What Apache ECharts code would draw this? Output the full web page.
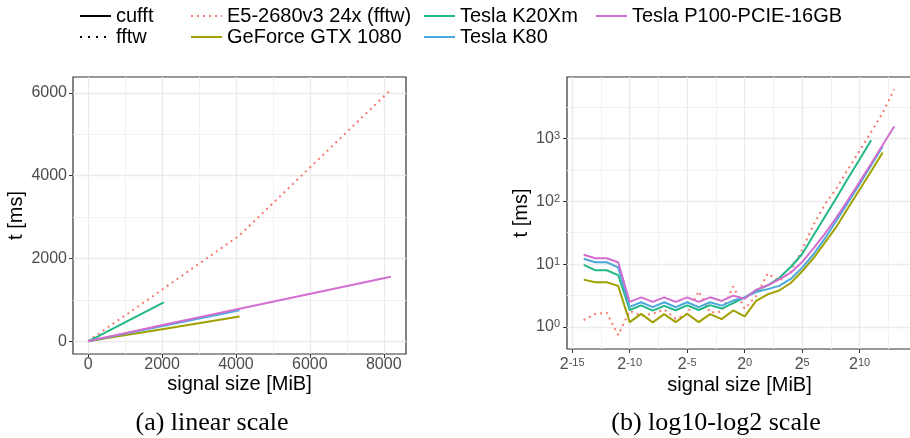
<!DOCTYPE html>
<html>
<head>
<meta charset="utf-8">
<script src="https://cdn.jsdelivr.net/npm/echarts@6.0.0/dist/echarts.min.js"></script>
<style>
html, body { margin: 0; padding: 0; background: #fff; }
#chart { width: 910px; height: 438px; }
</style>
</head>
<body>
<div id="chart"></div>
<script>
// signal sizes (MiB), powers of two from 2^-14 to 2^13
const sizeMiB = [1/16384, 1/8192, 1/4096, 1/2048, 1/1024, 1/512, 1/256, 1/128, 1/64, 1/32, 1/16, 1/8, 1/4, 1/2,
    1, 2, 4, 8, 16, 32, 64, 128, 256, 512, 1024, 2048, 4096, 8192];

// runtimes (ms), one per size
const tE5 = [1.28, 1.6, 1.68, 0.74, 1.8, 1.5, 1.62, 1.9, 1.35, 1.6, 3.7, 1.7, 1.75, 4.4,
    1.95, 3.1, 7.1, 5.4, 7.5, 17, 43, 91, 163, 328, 640, 1280, 2560, 6080];
const tGtx1080 = [5.66, 5.13, 5.13, 4.5, 1.19, 1.61, 1.18, 1.6, 1.19, 1.62, 1.19, 1.6, 1.33, 1.83,
    1.47, 2.6, 3.3, 3.8, 5.0, 7.7, 12.6, 22.3, 40, 79, 154, 302, 600];
const tK20Xm = [9.7, 8.0, 8.0, 6.7, 1.86, 2.2, 1.82, 2.16, 1.84, 2.2, 1.86, 2.22, 1.96, 2.4,
    2.95, 3.8, 4.6, 6.0, 9.0, 14.5, 29, 58, 115, 235, 470, 940];
const tK80 = [12.2, 10.7, 10.7, 8.9, 2.08, 2.47, 2.06, 2.47, 2.06, 2.47, 2.06, 2.47, 2.18, 2.63,
    2.95, 3.6, 4.0, 4.5, 5.8, 8.8, 14.5, 26, 50, 97, 190, 375, 750];
const tP100 = [14.1, 12.4, 12.4, 10.7, 2.5, 2.96, 2.5, 2.96, 2.5, 2.96, 2.5, 2.96, 2.59, 3.15,
    2.8, 3.9, 4.6, 5.7, 7.3, 10.8, 18, 31, 56, 106, 205, 400, 790, 1560];

// tick values
const linTicksX = [0, 2000, 4000, 6000, 8000];
const linMinorX = [1000, 3000, 5000, 7000];
const linTicksY = [0, 2000, 4000, 6000];
const linMinorY = [1000, 3000, 5000];
const log2TicksX = [-15, -10, -5, 0, 5, 10];
const log2MinorX = [-12.5, -7.5, -2.5, 2.5, 7.5, 12.5];
const log10TicksY = [0, 1, 2, 3];
const log10MinorY = [0.5, 1.5, 2.5, 3.5];

const devices = [
    { name: 'E5-2680v3 24x (fftw)', color: '#F47A70', t: tE5, fftw: true },
    { name: 'GeForce GTX 1080', color: '#A0A000', t: tGtx1080 },
    { name: 'Tesla K20Xm', color: '#22B884', t: tK20Xm },
    { name: 'Tesla K80', color: '#4AA8DC', t: tK80 },
    { name: 'Tesla P100-PCIE-16GB', color: '#D36ED0', t: tP100 }
];

const FONT = 'Liberation Sans, Arial, sans-serif';
const TICK_COLOR = '#4D4D4D';

function lineSeries(dev, logScale) {
    return {
        name: dev.name,
        type: 'line',
        xAxisIndex: logScale ? 2 : 0,
        yAxisIndex: logScale ? 2 : 0,
        data: dev.t.map((t, i) => logScale ? [Math.log2(sizeMiB[i]), Math.log10(t)] : [sizeMiB[i], t]),
        symbol: 'none',
        silent: true,
        lineStyle: { color: dev.color, width: 2, type: dev.fftw ? [2, 4] : 'solid' },
        itemStyle: { color: dev.color }
    };
}

function mainAxis(gridIndex, min, max, ticks, fmt, labelOpt, nameOpt) {
    return Object.assign({
        type: 'value',
        gridIndex: gridIndex,
        min: min,
        max: max,
        axisLine: { show: false, onZero: false },
        axisTick: { show: true, customValues: ticks, length: 4, lineStyle: { color: '#333', width: 1 } },
        axisLabel: Object.assign({ customValues: ticks, formatter: fmt, color: TICK_COLOR, fontSize: 16, fontFamily: FONT }, labelOpt),
        splitLine: { show: true, lineStyle: { color: '#EBEBEB', width: 1.4 } },
        nameLocation: 'middle',
        nameMoveOverlap: false,
        nameTextStyle: { fontSize: 20, color: '#000', fontFamily: FONT }
    }, nameOpt);
}

function minorAxis(gridIndex, min, max, ticks, pos) {
    return {
        type: 'value',
        gridIndex: gridIndex,
        min: min,
        max: max,
        position: pos,
        axisLine: { show: false, onZero: false },
        axisTick: { show: false, customValues: ticks },
        axisLabel: { show: false, customValues: ticks },
        splitLine: { show: true, lineStyle: { color: '#F2F2F2', width: 1 } }
    };
}

const supRich = {
    b: { fontSize: 16, color: TICK_COLOR, fontFamily: FONT, lineHeight: 16, verticalAlign: 'bottom' },
    s: { fontSize: 11, color: TICK_COLOR, fontFamily: FONT, lineHeight: 12, verticalAlign: 'top', padding: [0, 0, 11, 0] }
};

const series = [];
devices.forEach(d => series.push(lineSeries(d, false)));
devices.forEach(d => series.push(lineSeries(d, true)));
// linetype keys for the legend
series.push({ name: 'cufft', type: 'line', data: [], symbol: 'none', lineStyle: { color: '#000', width: 2 }, itemStyle: { color: '#000' } });
series.push({ name: 'fftw', type: 'line', data: [], symbol: 'none', lineStyle: { color: '#000', width: 2, type: [2, 6] }, itemStyle: { color: '#000' } });

const legendBase = {
    orient: 'vertical', top: 1, itemWidth: 31, itemHeight: 14, itemGap: 1,
    selectedMode: false,
    itemStyle: { opacity: 0 },
    textStyle: { fontSize: 20, color: '#000', fontFamily: FONT, lineHeight: 20 }
};

const option = {
    animation: false,
    backgroundColor: '#fff',
    textStyle: { fontFamily: FONT },
    legend: [
        Object.assign({ left: 74, data: ['cufft', 'fftw'] }, legendBase),
        Object.assign({ left: 185, data: ['E5-2680v3 24x (fftw)', 'GeForce GTX 1080'] }, legendBase),
        Object.assign({ left: 418, data: ['Tesla K20Xm', 'Tesla K80'] }, legendBase),
        Object.assign({ left: 590, data: ['Tesla P100-PCIE-16GB'] }, legendBase)
    ],
    grid: [
        { left: 73, top: 77, width: 333, height: 277, show: true, borderColor: '#333', borderWidth: 1.2,
          backgroundColor: 'transparent', outerBoundsMode: 'none' },
        { left: 567, top: 77, width: 345, height: 272, show: true, borderColor: '#333', borderWidth: 1.2,
          backgroundColor: 'transparent', outerBoundsMode: 'none' }
    ],
    xAxis: [
        mainAxis(0, -409.6, 8601.6, linTicksX, v => String(v), { margin: 3 },
            { name: 'signal size [MiB]', nameGap: 20, position: 'bottom' }),
        minorAxis(0, -409.6, 8601.6, linMinorX, 'top'),
        mainAxis(1, -15.45, 14.55, log2TicksX, v => '{b|2}{s|' + v + '}', { margin: 8, rich: supRich },
            { name: 'signal size [MiB]', nameGap: 26, position: 'bottom' }),
        minorAxis(1, -15.45, 14.55, log2MinorX, 'top')
    ],
    yAxis: [
        mainAxis(0, -304, 6384, linTicksY, v => String(v), { margin: 6 },
            { name: 't [ms]', nameGap: 47, position: 'left' }),
        minorAxis(0, -304, 6384, linMinorY, 'right'),
        mainAxis(1, -0.352, 3.981, log10TicksY, v => '{b|10}{s|' + v + '}', { margin: 7, rich: supRich },
            { name: 't [ms]', nameGap: 36, position: 'left' }),
        minorAxis(1, -0.352, 3.981, log10MinorY, 'right')
    ],
    graphic: [
        { type: 'text', x: 212, y: 423, style: { text: '(a) linear scale', align: 'center', verticalAlign: 'middle',
            fontSize: 26, fontFamily: 'Liberation Serif, Times New Roman, serif', fill: '#000' } },
        { type: 'text', x: 716, y: 423, style: { text: '(b) log10-log2 scale', align: 'center', verticalAlign: 'middle',
            fontSize: 26, fontFamily: 'Liberation Serif, Times New Roman, serif', fill: '#000' } }
    ],
    series: series
};

const myChart = echarts.init(document.getElementById('chart'), null, { renderer: 'canvas' });
myChart.setOption(option);
</script>
</body>
</html>
